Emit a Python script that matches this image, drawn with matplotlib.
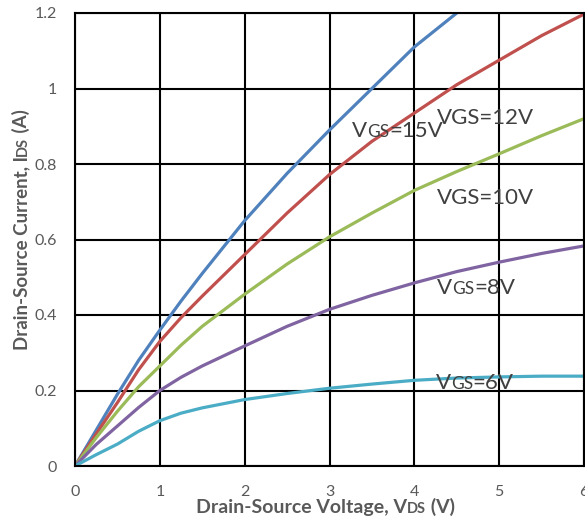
import matplotlib
matplotlib.use('Agg')
from matplotlib import pyplot as plt

# drain-source voltage (V) and drain current (A)
vds = [0, 0.25, 0.5, 0.75, 1, 1.25, 1.5, 2, 2.5, 3, 3.5, 4, 4.5, 5, 5.5, 6]
ids_15v = [0, 0.095, 0.19, 0.28, 0.36, 0.437, 0.51, 0.65, 0.775, 0.89, 1.0, 1.11, 1.2, 1.28, 1.35, 1.42]
ids_12v = [0, 0.085, 0.168, 0.255, 0.33, 0.393, 0.45, 0.56, 0.67, 0.772, 0.86, 0.935, 1.01, 1.075, 1.14, 1.197]
ids_10v = [0, 0.075, 0.145, 0.21, 0.265, 0.32, 0.37, 0.455, 0.535, 0.607, 0.67, 0.73, 0.78, 0.827, 0.875, 0.92]
ids_8v = [0, 0.057, 0.106, 0.155, 0.2, 0.235, 0.265, 0.318, 0.37, 0.415, 0.452, 0.485, 0.515, 0.54, 0.563, 0.583]
ids_6v = [0, 0.03, 0.058, 0.092, 0.12, 0.14, 0.154, 0.176, 0.192, 0.206, 0.217, 0.227, 0.233, 0.236, 0.238, 0.238]

x_ticks = [0, 1, 2, 3, 4, 5, 6]
y_ticks = [0, 0.2, 0.4, 0.6, 0.8, 1.0, 1.2]
y_tick_labels = ['0', '0.2', '0.4', '0.6', '0.8', '1', '1.2']

plt.rcParams['font.family'] = ['Lato', 'DejaVu Sans']

GRAY = '#595959'
DARK = '#404040'


def rich_text(ax, x, y, parts, coords, rotated=False, **kw):
    # draw text pieces one after another so some letters can be smaller
    prev = None
    for s, size in parts:
        if rotated:
            if prev is None:
                xy, xyc = (x, y), coords
            else:
                xy, xyc = (x, 1), (coords, prev)
            t = ax.annotate(s, xy=xy, xycoords=xyc, fontsize=size, rotation=90,
                            rotation_mode='anchor', ha='left', va='baseline', **kw)
        else:
            if prev is None:
                xy, xyc = (x, y), coords
            else:
                xy, xyc = (1, y), (prev, coords)
            t = ax.annotate(s, xy=xy, xycoords=xyc, fontsize=size,
                            ha='left', va='baseline', **kw)
        prev = t


fig = plt.figure(figsize=(5.85, 5.2), dpi=100)
ax = fig.add_axes([75 / 585, 54 / 520, 509 / 585, 453 / 520])

ax.plot(vds, ids_15v, color='#4F81BD', lw=2.3)
ax.plot(vds, ids_12v, color='#C0504D', lw=2.3)
ax.plot(vds, ids_10v, color='#9BBB59', lw=2.3)
ax.plot(vds, ids_8v, color='#8064A2', lw=2.3)
ax.plot(vds, ids_6v, color='#4BACC6', lw=2.3)

ax.set_xlim(0, 6)
ax.set_ylim(0, 1.2)
ax.set_xticks(x_ticks)
ax.set_yticks(y_ticks)
ax.set_yticklabels(y_tick_labels)
ax.tick_params(length=0, labelsize=11.5, labelcolor=GRAY)
ax.tick_params(axis='x', pad=14)
ax.tick_params(axis='y', pad=13)
ax.grid(color='black', lw=1.5)
ax.set_axisbelow(True)
for sp in ax.spines.values():
    sp.set_color('black')
    sp.set_linewidth(1.5)

# curve labels
rich_text(ax, 3.27, 0.872, [('V', 16), ('GS', 12.5), ('=15V', 16)], 'data', color=DARK)
rich_text(ax, 4.27, 0.905, [('VGS=12V', 16)], 'data', color=DARK)
rich_text(ax, 4.27, 0.695, [('VGS=10V', 16)], 'data', color=DARK)
rich_text(ax, 4.27, 0.455, [('V', 16), ('GS', 12.5), ('=8V', 16)], 'data', color=DARK)
rich_text(ax, 4.25, 0.203, [('V', 16), ('GS', 12.5), ('=6V', 16)], 'data', color=DARK)

# axis titles
rich_text(ax, 196 / 585, 7 / 520,
          [('Drain-Source Voltage, V', 14), ('DS', 10.5), (' (V)', 14)],
          'figure fraction', color=GRAY, fontweight='bold')
rich_text(ax, 27 / 585, 170 / 520,
          [('Drain-Source Current, I', 13.5), ('DS', 10.5), (' (A)', 13.5)],
          'figure fraction', rotated=True, color=GRAY, fontweight='bold')

plt.savefig('out.png', dpi=100)
